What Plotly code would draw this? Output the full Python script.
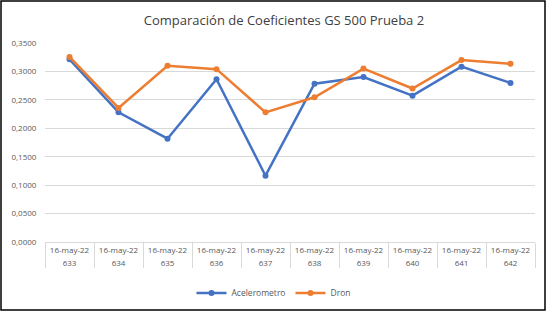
import plotly.graph_objects as go

fechas = ["16-may-22"] * 10
pruebas = ["633", "634", "635", "636", "637", "638", "639", "640", "641", "642"]
acelerometro = [0.3213, 0.2280, 0.1817, 0.2862, 0.1166, 0.2785, 0.2902, 0.2574, 0.3084, 0.2797]
dron = [0.3254, 0.2357, 0.3100, 0.3040, 0.2280, 0.2545, 0.3050, 0.2700, 0.3200, 0.3136]

font_family = "Open Sans"

fig = go.Figure()
fig.add_trace(go.Scatter(
    x=[pruebas, fechas], y=acelerometro, name="Acelerometro",
    mode="lines+markers", line=dict(color="#4472C4", width=2.5),
    marker=dict(size=6, color="#4472C4"),
))
fig.add_trace(go.Scatter(
    x=[pruebas, fechas], y=dron, name="Dron",
    mode="lines+markers", line=dict(color="#ED7D31", width=2.5),
    marker=dict(size=6, color="#ED7D31"),
))

fig.update_layout(
    width=547, height=312,
    autosize=False,
    margin=dict(l=45, r=12, t=43, b=70, pad=0),
    paper_bgcolor="white", plot_bgcolor="white",
    separators=",.",
    font=dict(family=font_family, size=8, color="#595959"),
    title=dict(text="Comparación de Coeficientes GS 500 Prueba 2",
               x=284 / 547, xanchor="center", y=0.935, yref="container", yanchor="middle",
               font=dict(family=font_family, size=13, color="#404040"), automargin=False),
    showlegend=True,
    legend=dict(orientation="h", x=0.5, xanchor="center", xref="container",
                y=1 - 293 / 312, yref="container", yanchor="middle",
                font=dict(size=8.5, color="#595959"), itemwidth=30),
    xaxis=dict(type="multicategory", showgrid=False, showline=True, linecolor="#D9D9D9",
               showdividers=True, dividercolor="#D9D9D9", dividerwidth=1,
               ticks="outside", ticklen=7, tickcolor="rgba(0,0,0,0)",
               range=[-0.5, 9.5], automargin=False,
               tickangle=0, tickfont=dict(size=8, color="#595959")),
    yaxis=dict(range=[0, 0.35], dtick=0.05, tickformat=".4f", showgrid=True,
               gridcolor="#D9D9D9", gridwidth=1, zeroline=False, showline=False,
               ticks="outside", ticklen=6, tickcolor="rgba(0,0,0,0)",
               automargin=False, tickfont=dict(size=8, color="#595959")),
    shapes=[dict(type="rect", xref="paper", yref="paper",
                 x0=(1 - 45) / 490, x1=(545 - 45) / 490,
                 y0=(242 - 310) / 199, y1=(242 - 1) / 199,
                 line=dict(color="black", width=1.5), layer="below")],
)

fig.write_html("out.html", config={"displayModeBar": False},
               post_script="document.body.style.margin='0';")
